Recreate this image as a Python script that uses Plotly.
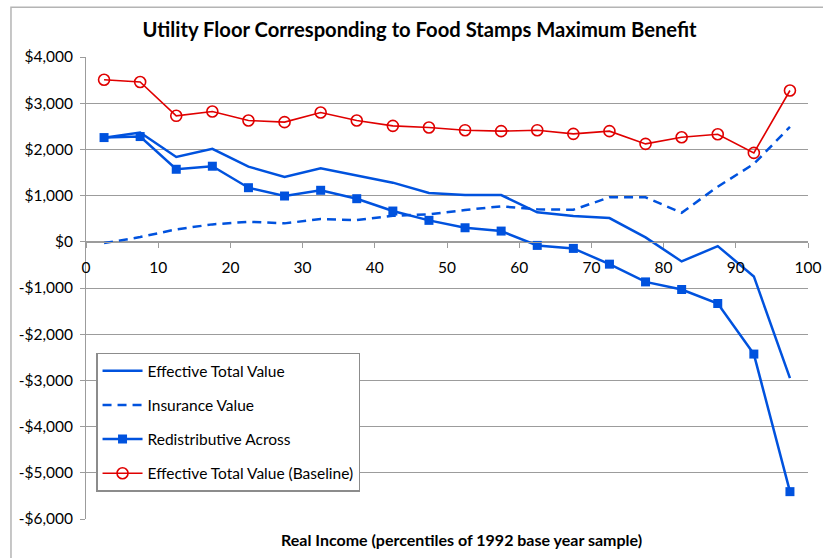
import plotly.graph_objects as go

percentiles = [2.5, 7.5, 12.5, 17.5, 22.5, 27.5, 32.5, 37.5, 42.5, 47.5,
               52.5, 57.5, 62.5, 67.5, 72.5, 77.5, 82.5, 87.5, 92.5, 97.5]

effective_total = [2250, 2365, 1837, 2011, 1627, 1403, 1592, 1432, 1280, 1056,
                   1013, 1013, 638, 557, 514, 95, -425, -93, -750, -2950]
insurance_value = [-28, 102, 269, 377, 434, 399, 492, 471, 564, 594,
                   688, 768, 703, 694, 963, 963, 629, 1193, 1685, 2488]
redistributive = [2256, 2278, 1570, 1636, 1171, 991, 1115, 933, 666, 464,
                  304, 232, -78, -143, -484, -868, -1033, -1336, -2430, -5408]
baseline = [3508, 3458, 2727, 2820, 2625, 2590, 2798, 2625, 2510, 2473,
            2416, 2395, 2416, 2336, 2395, 2119, 2264, 2329, 1924, 3275]

y_tick_vals = [4000, 3000, 2000, 1000, 0, -1000, -2000, -3000, -4000, -5000, -6000]
y_tick_text = ["$4,000", "$3,000", "$2,000", "$1,000", "$0", "-$1,000", "-$2,000",
               "-$3,000", "-$4,000", "-$5,000", "-$6,000"]
x_tick_vals = [0, 10, 20, 30, 40, 50, 60, 70, 80, 90, 100]

BLUE = "#0052DE"
RED = "#E00000"
GRID = "#9C9C9C"
FONT = "Lato"

fig = go.Figure()
fig.add_trace(go.Scatter(x=percentiles, y=effective_total, mode="lines",
                         name="Effective Total Value", legendgroup="a",
                         line=dict(color=BLUE, width=2.5)))
fig.add_trace(go.Scatter(x=percentiles, y=insurance_value, mode="lines",
                         name="Insurance Value", legendgroup="b",
                         line=dict(color=BLUE, width=2.5, dash="9px,6px")))
fig.add_trace(go.Scatter(x=percentiles, y=redistributive, mode="lines+markers",
                         name="Redistributive Across", legendgroup="c",
                         line=dict(color=BLUE, width=2.5),
                         marker=dict(symbol="square", size=9, color=BLUE)))
fig.add_trace(go.Scatter(x=percentiles, y=baseline, mode="lines+markers",
                         name="Effective Total Value (Baseline)", legendgroup="d",
                         line=dict(color=RED, width=1.6),
                         marker=dict(symbol="circle-open", size=11,
                                     color=RED, line=dict(color=RED, width=1.6))))

W, H = 823, 558
fig.update_layout(
    width=W, height=H,
    margin=dict(l=86, r=15, t=57, b=39, autoexpand=False),
    paper_bgcolor="white", plot_bgcolor="white",
    font=dict(family=FONT, size=15, color="black"),
    showlegend=True,
    legend=dict(x=0.0139, y=0.36, xanchor="left", yanchor="top",
                bordercolor="#8C8C8C", borderwidth=1.5, bgcolor="white",
                font=dict(family=FONT, size=15.5), traceorder="grouped",
                tracegroupgap=11, itemwidth=40),
    xaxis=dict(range=[0, 100], tickvals=x_tick_vals, showgrid=False,
               zeroline=False, showline=True, linecolor=GRID, linewidth=1,
               ticks="outside", ticklen=5, tickcolor=GRID, automargin=False,
               anchor="free", position=0.6, ticklabelstandoff=7,
               tickfont=dict(family=FONT, size=15.5)),
    yaxis=dict(range=[-6000, 4000], tickvals=y_tick_vals, ticktext=y_tick_text,
               showgrid=True, gridcolor=GRID, gridwidth=1, zeroline=False,
               showline=True, linecolor=GRID, linewidth=1, automargin=False,
               ticks="outside", ticklen=5, tickcolor=GRID, ticklabelstandoff=4,
               tickfont=dict(family=FONT, size=15.5)),
    title=dict(text="<b>Utility Floor Corresponding to Food Stamps Maximum Benefit</b>",
               x=0.462, xref="paper", xanchor="center",
               y=1 - 30 / H, yref="container", yanchor="middle",
               font=dict(family=FONT, size=20.2)),
    annotations=[
        dict(text="<b>Real Income (percentiles of 1992 base year sample)</b>",
             xref="paper", yref="paper", x=0.52, y=-0.0433,
             xanchor="center", yanchor="middle", showarrow=False,
             font=dict(family=FONT, size=16)),
    ],
    shapes=[dict(type="rect", xref="paper", yref="paper",
                 x0=-0.1039, y0=-0.2, x1=1.2, y1=1.1075,
                 line=dict(color="#B4B4B4", width=1.5), layer="below")],
)

fig.write_html(
    "out.html",
    config={"displayModeBar": False},
    post_script="document.body.style.margin='0';document.body.style.overflow='hidden';",
)
